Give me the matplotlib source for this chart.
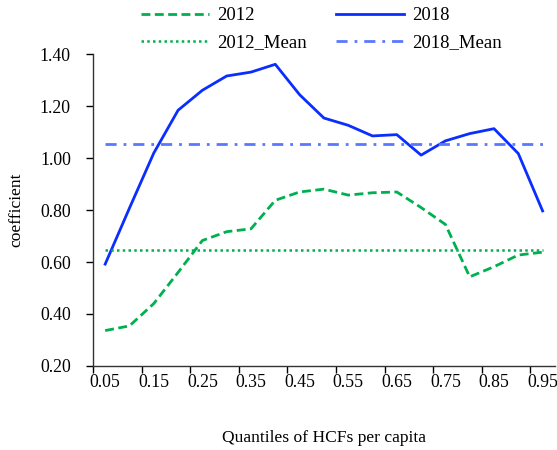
import numpy as np
import matplotlib
matplotlib.use("Agg")
import matplotlib.pyplot as plt

quantiles = ["0.05", "0.10", "0.15", "0.20", "0.25", "0.30", "0.35", "0.40", "0.45", "0.50",
             "0.55", "0.60", "0.65", "0.70", "0.75", "0.80", "0.85", "0.90", "0.95"]
coef_2012 = [0.336, 0.354, 0.440, 0.560, 0.683, 0.717, 0.728, 0.838, 0.870, 0.881,
             0.858, 0.867, 0.870, 0.810, 0.745, 0.543, 0.582, 0.627, 0.638]
coef_2018 = [0.592, 0.808, 1.020, 1.185, 1.262, 1.317, 1.332, 1.362, 1.245, 1.155,
             1.127, 1.086, 1.091, 1.012, 1.067, 1.095, 1.114, 1.018, 0.797]
mean_2012 = 0.646
mean_2018 = 1.053

plt.rcParams["font.family"] = ["Liberation Serif", "DejaVu Serif"]

green = "#00B050"
blue = "#0A2EFF"
blue_mean = "#5A78FF"

fig = plt.figure(figsize=(5.57, 4.5), dpi=100)
ax = fig.add_axes([0.167, 0.187, 0.829, 0.692])

x = np.arange(len(quantiles))
l1, = ax.plot(x, coef_2012, color=green, lw=2.0, ls=(0, (3.2, 1.6)), label="2012")
l2, = ax.plot(x, coef_2018, color=blue, lw=2.0, ls="-", label="2018")
l3, = ax.plot(x, [mean_2012] * len(x), color=green, lw=1.8, ls=(0, (1, 1.3)), label="2012_Mean")
l4, = ax.plot(x, [mean_2018] * len(x), color=blue_mean, lw=2.0, ls=(0, (4, 2.5, 1, 2.5)), label="2018_Mean")

ax.set_xlim(-0.5, len(x) - 0.5)
ax.set_ylim(0.2, 1.4)
ax.set_yticks(np.arange(0.2, 1.41, 0.2))
ax.set_yticklabels([f"{v:.2f}" for v in np.arange(0.2, 1.41, 0.2)])

# tick marks between categories, labels on every other category
ax.set_xticks(np.arange(-0.5, len(x) - 1, 2))
ax.set_xticklabels([])
ax.set_xticks(x[::2], minor=True)
ax.set_xticklabels(quantiles[::2], minor=True)
ax.tick_params(axis="x", which="minor", length=0, pad=6, labelsize=12.8)
ax.tick_params(axis="x", which="major", length=5, width=1, direction="out")
ax.tick_params(axis="y", length=5, width=1, direction="out", pad=11, labelsize=12.8)

for s in ["top", "right"]:
    ax.spines[s].set_visible(False)
for s in ["left", "bottom"]:
    ax.spines[s].set_linewidth(1)
    ax.spines[s].set_color("#333333")

ax.set_xlabel("Quantiles of HCFs per capita", fontsize=12.6, labelpad=28)
ax.set_ylabel("coefficient", fontsize=12.6, labelpad=11)

# column-first fill -> order so rows read 2012, 2018 / 2012_Mean, 2018_Mean
fig.legend([l1, l3, l2, l4], ["2012", "2012_Mean", "2018", "2018_Mean"],
           loc="upper left", bbox_to_anchor=(0.2225, 1.022), ncol=2, frameon=False,
           fontsize=13.5, handlelength=3.63, columnspacing=1.55, labelspacing=0.54,
           handletextpad=0.43)

fig.savefig("out.png", dpi=100)
